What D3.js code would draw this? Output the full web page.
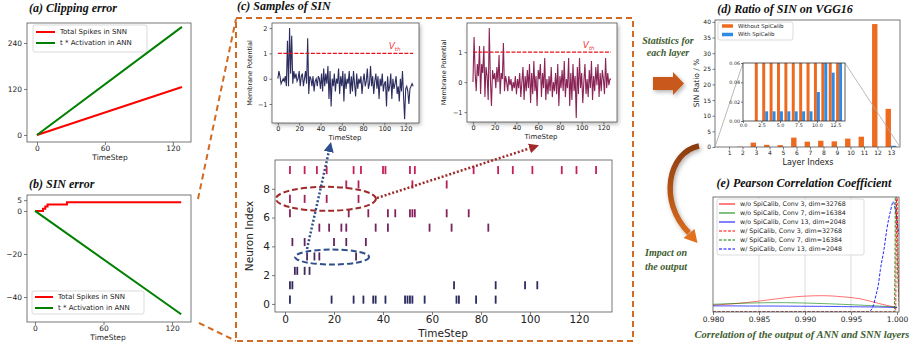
<!DOCTYPE html>
<html>
<head>
<meta charset="utf-8">
<script src="https://cdn.jsdelivr.net/npm/d3@7"></script>
<style>
  html, body { margin: 0; padding: 0; background: #fff; }
  svg { display: block; }
  text { font-family: 'DejaVu Sans', sans-serif; fill: #222; }
  .title { font-family: 'Liberation Serif', serif; font-weight: bold; font-style: italic; fill: #111; }
  .note { font-family: 'Liberation Serif', serif; font-weight: bold; font-style: italic; fill: #3d5c2e; }
</style>
</head>
<body>
<svg id="chart" width="915" height="352"></svg>
<script>
// (a) clipping error
const clipT = [0, 128];
const clipSpikes = [0, 125];
const clipAct = [0, 282];

// (b) SIN error
const sinT = [0, 7, 9, 11, 28, 128];
const sinSpikes = [0, 1, 2, 3, 4, 4];
const sinActT = [0, 128];
const sinAct = [0, -48];

// (c) membrane potential samples (t = index)
const memA = [
  0.0, 0.3, 0.1, -0.2, -0.1, 0.0, -0.1, 0.1, -0.3, 1.5,
  -0.3, 2.0, 0.2, 1.7, -0.2, 0.3, 0.0, 0.2, -0.1, 0.0,
  0.3, -0.3, 0.1, 0.2, -0.3, 0.0, 0.3, -0.2, 1.6, -0.6,
  0.1, 0.0, -0.3, 0.1, -0.5, -0.1, 0.0, -0.3, 0.1, 0.0,
  -0.4, 0.2, -0.5, 0.4, -0.3, 0.2, -0.2, 0.5, -0.8, 0.3,
  -1.1, 0.0, -0.3, 0.2, -0.5, 0.0, -0.2, 0.4, -0.6, 0.1,
  -0.3, 0.3, -0.9, 0.2, -0.4, 0.0, -0.2, 0.3, -0.6, 0.1,
  -0.5, 0.3, -0.2, -0.7, 0.2, -0.4, 0.0, -0.2, 0.1, -0.6,
  -0.1, 0.2, -0.3, -0.1, 0.4, -0.4, -0.2, 0.5, -0.3, 0.1,
  -0.6, -0.1, 0.2, -0.4, 0.1, -0.8, 0.0, -0.3, 0.2, -0.5,
  -0.2, -0.1, -1.1, 0.1, -0.5, -0.3, 0.2, -0.8, 0.0, -0.4,
  -0.2, 0.1, -0.6, -0.3, -0.9, 0.0, -0.5, 0.3, -0.7, -1.6,
  -0.4, -0.3, -0.5, -1.0, -0.4, -0.3, -0.2, -0.3,
];
const memB = [
  0.0, 1.5, 0.3, -0.3, 0.6, 0.2, 1.2, -0.4, 0.6, 0.3,
  1.2, -0.5, 0.5, 0.2, -0.6, 1.8, 0.1, -0.8, 0.4, 0.1,
  0.3, -0.2, 0.5, 0.0, 0.9, -0.4, 0.3, 0.1, 1.3, -0.3,
  0.2, 0.0, -0.3, 0.2, -0.1, 0.1, -0.3, 0.0, -0.2, 0.2,
  -0.4, 0.1, -0.2, 0.3, -0.5, 0.0, 0.5, -0.6, 0.2, -0.3,
  0.4, -0.2, 0.6, -0.7, 0.3, -0.4, 0.7, -0.3, 0.2, -0.8,
  0.4, 0.1, 0.6, -0.5, 0.3, -0.2, 0.8, -0.6, 0.1, -0.4,
  0.2, -0.3, 0.5, -0.5, 0.0, -0.3, 0.3, -0.4, 0.6, -0.8,
  0.2, -0.2, 0.4, -0.3, 0.7, -0.5, 0.1, -0.2, 0.8, -0.8,
  0.3, -0.6, 0.6, -0.3, 0.2, -1.2, 0.5, -0.4, 0.8, -0.2,
  0.3, -0.7, 0.0, 0.6, -0.4, 0.1, -0.5, 0.4, -0.2, 0.7,
  -0.6, 0.2, -0.3, 0.5, -0.1, 0.6, -0.5, 0.3, -0.3, 0.4,
  0.1, -0.4, 0.8, -0.2, 0.3, -0.1, 0.1, 0.1,
];
const vth = 1;

// (c) spike raster, one list per neuron 0..9
const spikeTimes = [
  [2, 19, 28, 32, 36, 37, 41, 49, 50, 51, 52, 57, 70, 71, 78, 86],
  [2, 3, 69, 86, 98, 103],
  [4, 5, 8, 10],
  [9, 12, 14, 29],
  [3, 8, 20, 25, 33],
  [14, 18, 23, 25, 37, 42, 59, 68, 83],
  [2, 26, 34, 42, 45, 51, 52, 53, 66, 75],
  [2, 8, 17, 30],
  [25, 30, 52, 66],
  [2, 8, 13, 17, 28, 31, 40, 41, 51, 53, 77, 87, 93, 101, 113, 119, 127],
];

// (d) SIN ratio per layer (%)
const layers = [1, 2, 3, 4, 5, 6, 7, 8, 9, 10, 11, 12, 13];
const ratioWithout = [0, 0.1, 1.4, 0.7, 0.6, 3.0, 1.7, 2.0, 1.8, 2.7, 3.3, 39.3, 12.2];
const ratioWith = [0, 0, 0.01, 0.01, 0.01, 0.01, 0.01, 0.01, 0.01, 0.03, 0.08, 0.05, 0.4];

// (e) correlation densities
const corrX = [0.980, 0.982, 0.984, 0.986, 0.988, 0.990, 0.992, 0.994, 0.996, 0.998, 1.000];
const conv3Wo = [6, 7, 8.5, 10.5, 12.5, 13.8, 14.2, 13.3, 11.5, 7.5, 3.7];
const conv7Wo = [6.7, 7.3, 7.8, 8.1, 8.1, 7.8, 7.3, 6.7, 6, 5.2, 4.3];
const conv13Wo = [5.3, 5.3, 5.2, 5.2, 5.1, 5.0, 4.9, 4.7, 4.5, 4.3, 4.0];
const conv3WX = [0.980, 0.99985, 0.99992, 0.99995, 1.00005, 1.0003];
const conv3W = [0, 0, 80, 160, 80, 0];
const conv7WX = [0.980, 0.9997, 0.9998, 0.99984, 1.0000, 1.0003];
const conv7W = [0, 0, 60, 150, 60, 0];
const conv13WX = [0.980, 0.9968, 0.9971, 0.9974, 0.9977, 0.9980, 0.9982, 0.9986, 0.9989, 0.9993, 0.9996, 0.9998, 1.0000, 1.0001, 1.0003];
const conv13W = [0, 0, 1, 5, 14, 25, 37, 55, 72, 88, 96, 90, 80, 73, 66];

const orange = '#ee6a1f';
const blue = '#2b8be6';
const boxOrange = '#d06a24';
const frameColor = '#555';

const svg = d3.select('#chart');
const defs = svg.append('defs');

const shadow = defs.append('filter').attr('id', 'shadow')
  .attr('x', '-20%').attr('y', '-20%').attr('width', '140%').attr('height', '140%');
shadow.append('feDropShadow').attr('dx', 1.5).attr('dy', 2).attr('stdDeviation', 2)
  .attr('flood-color', '#000').attr('flood-opacity', 0.3);

const addMarker = (id, color) => defs.append('marker').attr('id', id)
  .attr('viewBox', '0 0 10 10').attr('refX', 0).attr('refY', 5)
  .attr('markerWidth', 4).attr('markerHeight', 4).attr('orient', 'auto')
  .append('path').attr('d', 'M0,0L10,5L0,10z').attr('fill', color);
addMarker('arrowBlue', '#2e4f8c');
addMarker('arrowRed', '#9e2a2a');

const grad = defs.append('linearGradient').attr('id', 'curveGrad')
  .attr('gradientUnits', 'userSpaceOnUse').attr('x1', 0).attr('y1', 143).attr('x2', 0).attr('y2', 245);
grad.append('stop').attr('offset', '0%').attr('stop-color', '#8a3a10');
grad.append('stop').attr('offset', '100%').attr('stop-color', '#e0711f');

const drawAxis = (g, axis, x, y, fontSize) => {
  const a = g.append('g').attr('transform', `translate(${x},${y})`).call(axis);
  a.select('.domain').remove();
  a.selectAll('line').attr('stroke', '#444').attr('stroke-width', 0.7);
  a.selectAll('text').attr('font-size', fontSize).attr('font-family', 'DejaVu Sans').attr('fill', '#222');
  return a;
};

const drawFrame = (g, x, y, fill) => {
  const [x0, x1] = x.range();
  const [y1, y0] = y.range();
  return g.append('rect').attr('x', x0).attr('y', y0).attr('width', x1 - x0).attr('height', y1 - y0)
    .attr('fill', fill || 'none').attr('stroke', frameColor).attr('stroke-width', 0.8);
};

const clipTo = (id, x, y) => {
  const [x0, x1] = x.range();
  const [y1, y0] = y.range();
  defs.append('clipPath').attr('id', id).append('rect')
    .attr('x', x0).attr('y', y0).attr('width', x1 - x0).attr('height', y1 - y0);
  return `url(#${id})`;
};

const drawLegend = (g, box, items, o) => {
  const lg = g.append('g');
  lg.append('rect').attr('x', box[0]).attr('y', box[1]).attr('width', box[2]).attr('height', box[3])
    .attr('rx', 2).attr('fill', '#fff').attr('fill-opacity', 0.85).attr('stroke', '#ccc').attr('stroke-width', 0.7);
  items.forEach((item, i) => {
    const y = o.y0 + i * o.step;
    if (item.patch) {
      lg.append('rect').attr('x', o.x0).attr('y', y - o.ph / 2).attr('width', o.x1 - o.x0).attr('height', o.ph)
        .attr('fill', item.color);
    } else {
      lg.append('line').attr('x1', o.x0).attr('x2', o.x1).attr('y1', y).attr('y2', y)
        .attr('stroke', item.color).attr('stroke-width', o.lw).attr('stroke-dasharray', item.dash || null);
    }
    lg.append('text').attr('x', o.tx).attr('y', y).attr('dy', '0.35em').attr('font-size', o.fs).text(item.label);
  });
};

const xyLine = (x, y, xs, ys, curve) => d3.line()
  .x((d, i) => x(xs[i])).y((d) => y(d)).curve(curve || d3.curveLinear)(ys);

// ---------- (a) Clipping error ----------
const xA = d3.scaleLinear().domain([-8.8, 136]).range([27, 191]);
const yA = d3.scaleLinear().domain([-18.3, 292]).range([142, 23]);
const gA = svg.append('g');
drawAxis(gA, d3.axisBottom(xA).tickValues([0, 60, 120]).tickSize(3).tickPadding(1), 0, 142, 7.5);
drawAxis(gA, d3.axisLeft(yA).tickValues([0, 120, 240]).tickSize(3).tickPadding(2), 27, 0, 7.5);
gA.append('path').attr('d', xyLine(xA, yA, clipT, clipSpikes)).attr('fill', 'none').attr('stroke', '#ff0000').attr('stroke-width', 2);
gA.append('path').attr('d', xyLine(xA, yA, clipT, clipAct)).attr('fill', 'none').attr('stroke', '#008000').attr('stroke-width', 2);
drawFrame(gA, xA, yA);
drawLegend(gA, [33, 25, 114, 27], [
  { label: 'Total Spikes in SNN', color: '#ff0000' },
  { label: 't * Activation in ANN', color: '#008000' },
], { x0: 36, x1: 55, tx: 60, y0: 32, step: 11, lw: 2, fs: 7 });
gA.append('text').attr('x', 110).attr('y', 160).attr('text-anchor', 'middle').attr('font-size', 7.5).text('TimeStep');
gA.append('text').attr('class', 'title').attr('x', 29).attr('y', 12).attr('font-size', 12).text('(a) Clipping error');

// ---------- (b) SIN error ----------
const xB = d3.scaleLinear().domain([-7, 136.6]).range([27, 191]);
const yB = d3.scaleLinear().domain([-51.6, 7.4]).range([322, 195]);
const gB = svg.append('g');
drawAxis(gB, d3.axisBottom(xB).tickValues([0, 60, 120]).tickSize(3).tickPadding(1), 0, 322, 7.5);
drawAxis(gB, d3.axisLeft(yB).tickValues([5, 0, -20, -40]).tickSize(3).tickPadding(2), 27, 0, 7.5);
gB.append('path').attr('d', xyLine(xB, yB, sinT, sinSpikes, d3.curveStepAfter)).attr('fill', 'none').attr('stroke', '#ff0000').attr('stroke-width', 2);
gB.append('path').attr('d', xyLine(xB, yB, sinActT, sinAct)).attr('fill', 'none').attr('stroke', '#008000').attr('stroke-width', 2);
drawFrame(gB, xB, yB);
drawLegend(gB, [32, 291, 112, 23], [
  { label: 'Total Spikes in SNN', color: '#ff0000' },
  { label: 't * Activation in ANN', color: '#008000' },
], { x0: 35, x1: 53, tx: 58, y0: 297, step: 11, lw: 2, fs: 7 });
gB.append('text').attr('x', 108).attr('y', 340).attr('text-anchor', 'middle').attr('font-size', 7.5).text('TimeStep');
gB.append('text').attr('class', 'title').attr('x', 29).attr('y', 188).attr('font-size', 12).text('(b) SIN error');

// ---------- (c) Samples of SIN ----------
const gC = svg.append('g');
const dashStyle = (sel) => sel.attr('stroke', boxOrange).attr('stroke-width', 2).attr('stroke-dasharray', '6,4').attr('fill', 'none');
dashStyle(gC.append('rect').attr('x', 236).attr('y', 18).attr('width', 397).attr('height', 323));
dashStyle(gC.append('line').attr('x1', 198).attr('y1', 199).attr('x2', 236).attr('y2', 19));
dashStyle(gC.append('line').attr('x1', 199).attr('y1', 323).attr('x2', 236).attr('y2', 341));
gC.append('text').attr('class', 'title').attr('x', 237).attr('y', 10).attr('font-size', 12).text('(c) Samples of SIN');

const drawMembrane = (g, x, y, values, color, ticksY, vthX, labX, ylabX) => {
  const [x0, x1] = x.range();
  const [y1, y0] = y.range();
  g.append('rect').attr('x', x0).attr('y', y0).attr('width', x1 - x0).attr('height', y1 - y0)
    .attr('fill', '#fff').attr('filter', 'url(#shadow)');
  drawAxis(g, d3.axisBottom(x).tickValues([0, 20, 40, 60, 80, 100, 120]).tickSize(2.5).tickPadding(1), 0, y1, 6.5);
  drawAxis(g, d3.axisLeft(y).tickValues(ticksY).tickFormat(d3.format('d')).tickSize(2.5).tickPadding(2), x0, 0, 6.5);
  g.append('path').attr('d', d3.line().x((d, i) => x(i)).y((d) => y(d))(values))
    .attr('fill', 'none').attr('stroke', color).attr('stroke-width', 1.1);
  g.append('line').attr('x1', x(0)).attr('x2', x(values.length - 1)).attr('y1', y(vth)).attr('y2', y(vth))
    .attr('stroke', '#e8101a').attr('stroke-width', 1.2).attr('stroke-dasharray', '4,1.5');
  const v = g.append('text').attr('x', x(vthX)).attr('y', y(vth) - 4).attr('font-family', 'Liberation Serif')
    .attr('font-style', 'italic').attr('font-size', 9).style('fill', '#f04040');
  v.append('tspan').text('V');
  v.append('tspan').attr('font-size', 5.5).attr('dy', 2).text('th');
  drawFrame(g, x, y);
  g.append('text').attr('x', labX).attr('y', y1 + 17).attr('text-anchor', 'middle').attr('font-size', 7).text('TimeStep');
  g.append('text').attr('transform', `translate(${ylabX},${(y0 + y1) / 2}) rotate(-90)`)
    .attr('text-anchor', 'middle').attr('font-size', 6.5).text('Membrane Potential');
};

const xC1 = d3.scaleLinear().domain([-5.5, 132.5]).range([272, 419]);
const yC1 = d3.scaleLinear().domain([-1.75, 2.2]).range([123, 23]);
drawMembrane(gC.append('g'), xC1, yC1, memA, '#2c2d5e', [-1, 0, 1, 2], 104, 345, 252);

const xC2 = d3.scaleLinear().domain([-5.5, 132.5]).range([467, 617]);
const yC2 = d3.scaleLinear().domain([-1.33, 1.97]).range([122, 23]);
drawMembrane(gC.append('g'), xC2, yC2, memB, '#8a2456', [-1, 0, 1], 101, 541, 446);

// raster
const xR = d3.scaleLinear().domain([-4.1, 133.5]).range([275, 612]);
const yR = d3.scaleLinear().domain([-0.56, 10]).range([312, 160]);
const gR = gC.append('g');
gR.append('rect').attr('x', 275).attr('y', 160).attr('width', 337).attr('height', 152).attr('fill', '#fff');
drawAxis(gR, d3.axisBottom(xR).tickValues([0, 20, 40, 60, 80, 100, 120]).tickSize(3).tickPadding(1), 0, 312, 10.5);
drawAxis(gR, d3.axisLeft(yR).tickValues([0, 2, 4, 6, 8]).tickSize(3).tickPadding(2), 275, 0, 10.5);
const rasterColor = (i) => d3.interpolateRgb('#2a2b5f', '#c81e5a')(Math.pow(i / 9, 1.3));
spikeTimes.forEach((times, n) => {
  gR.append('g').selectAll('line').data(times).join('line')
    .attr('x1', (d) => xR(d)).attr('x2', (d) => xR(d))
    .attr('y1', yR(n + 0.3 - 0.28)).attr('y2', yR(n + 0.3 + 0.28))
    .attr('stroke', rasterColor(n)).attr('stroke-width', 1.8);
});
drawFrame(gR, xR, yR);
gR.append('text').attr('x', 443).attr('y', 337).attr('text-anchor', 'middle').attr('font-size', 10.5).text('TimeStep');
gR.append('text').attr('transform', `translate(253,236) rotate(-90)`).attr('text-anchor', 'middle').attr('font-size', 10.5).text('Neuron Index');

// highlight ellipses and arrows
gR.append('ellipse').attr('cx', xR(19.2)).attr('cy', yR(3.26)).attr('rx', 37).attr('ry', 7.5)
  .attr('fill', 'none').attr('stroke', '#2e4f8c').attr('stroke-width', 2).attr('stroke-dasharray', '6,3');
gR.append('ellipse').attr('cx', xR(16.7)).attr('cy', yR(7.3)).attr('rx', 50).attr('ry', 12)
  .attr('fill', 'none').attr('stroke', '#9e2a2a').attr('stroke-width', 2).attr('stroke-dasharray', '6,3');
gR.append('line').attr('x1', 307).attr('y1', 249).attr('x2', 328.8).attr('y2', 151.8)
  .attr('stroke', '#2e4f8c').attr('stroke-width', 2.5).attr('stroke-dasharray', '2,2').attr('marker-end', 'url(#arrowBlue)');
gR.append('line').attr('x1', 377).attr('y1', 198).attr('x2', 529.5).attr('y2', 148.4)
  .attr('stroke', '#9e2a2a').attr('stroke-width', 2.5).attr('stroke-dasharray', '2,2').attr('marker-end', 'url(#arrowRed)');

// ---------- connectors between (c) and (d)/(e) ----------
const gM = svg.append('g');
gM.append('path').attr('d', 'M653,77L673,77L673,72L684,83.5L673,95L673,90L653,90Z')
  .attr('fill', '#c8591a').attr('filter', 'url(#shadow)');
gM.append('path').attr('d', 'M699,146 C668,152 658,202 689,233')
  .attr('fill', 'none').attr('stroke', 'url(#curveGrad)').attr('stroke-width', 5.5).attr('filter', 'url(#shadow)');
gM.append('path').attr('d', 'M683.5,238L697.5,243L694.5,229Z').attr('fill', '#e0711f');
[['Statistics for', 44], ['each layer', 56]].forEach(([t, y]) => {
  gM.append('text').attr('class', 'note').attr('x', 668).attr('y', y).attr('text-anchor', 'middle').attr('font-size', 10).text(t);
});
[['Impact on', 256], ['the output', 270]].forEach(([t, y]) => {
  gM.append('text').attr('class', 'note').attr('x', 666).attr('y', y).attr('text-anchor', 'middle').attr('font-size', 10).text(t);
});

// ---------- (d) Ratio of SIN on VGG16 ----------
const xD = d3.scaleLinear().domain([-0.04, 13.67]).range([715, 900]);
const yD = d3.scaleLinear().domain([0, 40.6]).range([147, 20]);
const gD = svg.append('g');
drawAxis(gD, d3.axisBottom(xD).tickValues(layers).tickFormat(d3.format('d')).tickSize(2.5).tickPadding(1), 0, 147, 6);
drawAxis(gD, d3.axisLeft(yD).tickValues([0, 5, 10, 15, 20, 25, 30, 35, 40]).tickSize(2.5).tickPadding(1.5), 715, 0, 6);
const drawBars = (g, x, y, bw) => {
  g.append('g').selectAll('rect').data(layers).join('rect')
    .attr('x', (d) => x(d - bw)).attr('width', (d) => x(d) - x(d - bw))
    .attr('y', (d, i) => y(Math.min(ratioWithout[i], y.domain()[1])))
    .attr('height', (d, i) => y(0) - y(Math.min(ratioWithout[i], y.domain()[1])))
    .attr('fill', orange);
  g.append('g').selectAll('rect').data(layers).join('rect')
    .attr('x', (d) => x(d)).attr('width', (d) => x(d + bw) - x(d))
    .attr('y', (d, i) => y(Math.min(ratioWith[i], y.domain()[1])))
    .attr('height', (d, i) => y(0) - y(Math.min(ratioWith[i], y.domain()[1])))
    .attr('fill', blue);
};
drawBars(gD, xD, yD, 0.4);
drawFrame(gD, xD, yD);

// inset zoom
const xI = d3.scaleLinear().domain([0, 13.8]).range([743, 845]);
const yI = d3.scaleLinear().domain([0, 0.06]).range([121, 63]);
gD.append('line').attr('x1', 715).attr('y1', 147).attr('x2', 743).attr('y2', 63).attr('stroke', '#aaa').attr('stroke-width', 0.8);
gD.append('line').attr('x1', 900).attr('y1', 147).attr('x2', 845).attr('y2', 63).attr('stroke', '#aaa').attr('stroke-width', 0.8);
gD.append('rect').attr('x', 743).attr('y', 63).attr('width', 102).attr('height', 58).attr('fill', '#fff');
drawBars(gD, xI, yI, 0.4);
drawAxis(gD, d3.axisBottom(xI).tickValues([0, 2.5, 5, 7.5, 10, 12.5]).tickFormat(d3.format('.1f')).tickSize(2).tickPadding(1), 0, 121, 4.8);
drawAxis(gD, d3.axisLeft(yI).tickValues([0, 0.02, 0.04, 0.06]).tickFormat(d3.format('.2f')).tickSize(2).tickPadding(1), 743, 0, 4.8);
drawFrame(gD, xI, yI).attr('stroke', '#333');

drawLegend(gD, [718, 22, 75, 18], [
  { label: 'Without SpiCalib', color: orange, patch: true },
  { label: 'With SpiCalib', color: blue, patch: true },
], { x0: 722, x1: 733, tx: 738, y0: 26, step: 8.5, ph: 3.5, fs: 5.5 });
gD.append('text').attr('x', 808).attr('y', 165).attr('text-anchor', 'middle').attr('font-size', 8).text('Layer Indexs');
gD.append('text').attr('transform', 'translate(699,83) rotate(-90)').attr('text-anchor', 'middle').attr('font-size', 7.5).text('SIN Ratio / %');
gD.append('text').attr('class', 'title').attr('x', 785).attr('y', 13).attr('text-anchor', 'middle').attr('font-size', 12).text('(d) Ratio of SIN on VGG16');

// ---------- (e) Pearson Correlation Coefficient ----------
const xE = d3.scaleLinear().domain([0.980, 1.00022]).range([713, 899]);
const yE = d3.scaleLinear().domain([0, 100]).range([312, 197]);
const gE = svg.append('g');
gE.append('g').selectAll('line').data([0.985, 0.990, 0.995]).join('line')
  .attr('x1', (d) => xE(d)).attr('x2', (d) => xE(d)).attr('y1', 197).attr('y2', 312)
  .attr('stroke', '#ccc').attr('stroke-width', 0.7);
drawAxis(gE, d3.axisBottom(xE).tickValues([0.980, 0.985, 0.990, 0.995, 1.000]).tickFormat(d3.format('.3f')).tickSize(3).tickPadding(1.5), 0, 312, 7.5);
const eClip = clipTo('clipE', xE, yE);
const curves = [
  { xs: corrX, ys: conv3Wo, color: '#ff0000', op: 0.55 },
  { xs: corrX, ys: conv7Wo, color: '#008000', op: 0.6 },
  { xs: corrX, ys: conv13Wo, color: '#0000ff', op: 0.7 },
  { xs: conv13WX, ys: conv13W, color: '#0000ff', op: 0.85, dash: '3,1.5' },
  { xs: conv7WX, ys: conv7W, color: '#008000', op: 0.85, dash: '3,1.5' },
  { xs: conv3WX, ys: conv3W, color: '#ff0000', op: 0.85, dash: '3,1.5' },
];
curves.forEach((c) => {
  gE.append('path').attr('clip-path', eClip).attr('d', xyLine(xE, yE, c.xs, c.ys, d3.curveMonotoneX))
    .attr('fill', 'none').attr('stroke', c.color).attr('stroke-opacity', c.op).attr('stroke-width', 1)
    .attr('stroke-dasharray', c.dash || null);
});
drawFrame(gE, xE, yE);
drawLegend(gE, [717, 199, 147, 56], [
  { label: 'w/o SpiCalib, Conv 3, dim=32768', color: '#ff0000' },
  { label: 'w/o SpiCalib, Conv 7, dim=16384', color: '#008000' },
  { label: 'w/o SpiCalib, Conv 13, dim=2048', color: '#0000ff' },
  { label: 'w/ SpiCalib, Conv 3, dim=32768', color: '#ff0000', dash: '3,1.5' },
  { label: 'w/ SpiCalib, Conv 7, dim=16384', color: '#008000', dash: '3,1.5' },
  { label: 'w/ SpiCalib, Conv 13, dim=2048', color: '#0000ff', dash: '3,1.5' },
], { x0: 719, x1: 735, tx: 740, y0: 204, step: 9, lw: 1, fs: 6.3 });
gE.append('text').attr('class', 'title').attr('x', 804).attr('y', 187).attr('text-anchor', 'middle').attr('font-size', 12).text('(e) Pearson Correlation Coefficient');
gE.append('text').attr('class', 'note').attr('x', 802).attr('y', 338).attr('text-anchor', 'middle').attr('font-size', 10.5).text('Correlation of the output of ANN and SNN layers');
</script>
</body>
</html>
